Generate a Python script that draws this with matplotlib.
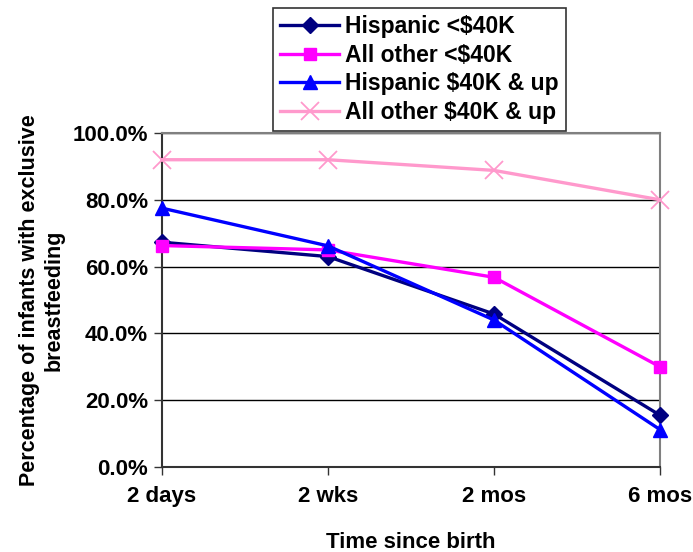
import matplotlib
matplotlib.use("Agg")
import matplotlib.pyplot as plt
from matplotlib.ticker import FuncFormatter

plt.rcParams['font.family'] = ['Liberation Sans', 'DejaVu Sans']
plt.rcParams['font.weight'] = 'bold'

categories = ["2 days", "2 wks", "2 mos", "6 mos"]
hispanic_low = [67.3, 63.0, 45.8, 15.5]
other_low = [66.3, 65.0, 56.8, 30.0]
hispanic_high = [77.5, 66.2, 44.0, 11.2]
other_high = [92.0, 92.0, 88.8, 80.0]

series = [
    ("Hispanic <$40K", hispanic_low, "#000080", "D", 8, None),
    ("All other <$40K", other_low, "#FF00FF", "s", 8, None),
    ("Hispanic $40K & up", hispanic_high, "#0000FF", "^", 10, None),
    ("All other $40K & up", other_high, "#FF99CC", "x", 13, 1.3),
]

fig = plt.figure(figsize=(6.93, 5.52), dpi=100)
ax = fig.add_axes([162 / 693, 1 - 467 / 552, (660 - 162) / 693, (467 - 133) / 552])

x = list(range(len(categories)))
for label, vals, color, marker, ms, mew in series:
    kw = dict(color=color, lw=2.4, marker=marker, markersize=ms, label=label,
              markerfacecolor=color, markeredgecolor=color, clip_on=False, zorder=3)
    if mew:
        kw["markeredgewidth"] = mew
    ax.plot(x, vals, **kw)

ax.set_xlim(0, len(categories) - 1)
ax.set_ylim(0, 100)
ax.set_yticks([0, 20, 40, 60, 80, 100])
ax.yaxis.set_major_formatter(FuncFormatter(lambda v, p: f"{v:.1f}%"))
ax.set_xticks(x)
ax.set_xticklabels(categories)
ax.yaxis.grid(True, color="black", lw=1)
ax.set_axisbelow(True)

for s in ("top", "right"):
    ax.spines[s].set_color("#808080")
    ax.spines[s].set_linewidth(1.5)
for s in ("left", "bottom"):
    ax.spines[s].set_color("#333333")
    ax.spines[s].set_linewidth(1.5)

ax.tick_params(axis="both", direction="out", length=6, width=1, color="#333333",
               labelsize=16)
ax.tick_params(axis="x", pad=8)
ax.tick_params(axis="y", pad=4)
for t in ax.get_xticklabels() + ax.get_yticklabels():
    t.set_fontweight("bold")

ax.set_xlabel("Time since birth", fontsize=16, fontweight="bold", labelpad=18)
ax.set_ylabel("Percentage of infants with exclusive\nbreastfeeding", fontsize=15.5,
              fontweight="bold", labelpad=6, linespacing=1.2)

leg = fig.legend(loc="upper left", bbox_to_anchor=(273 / 693, 1 - 8 / 552),
                 borderaxespad=0, fontsize=16.5, frameon=True, fancybox=False,
                 handlelength=2.6, labelspacing=0.25, borderpad=0.3,
                 handletextpad=0.25)
leg.get_frame().set_edgecolor("black")
leg.get_frame().set_linewidth(1.2)
for t in leg.get_texts():
    t.set_fontweight("bold")

fig.savefig("out.png", dpi=100)
